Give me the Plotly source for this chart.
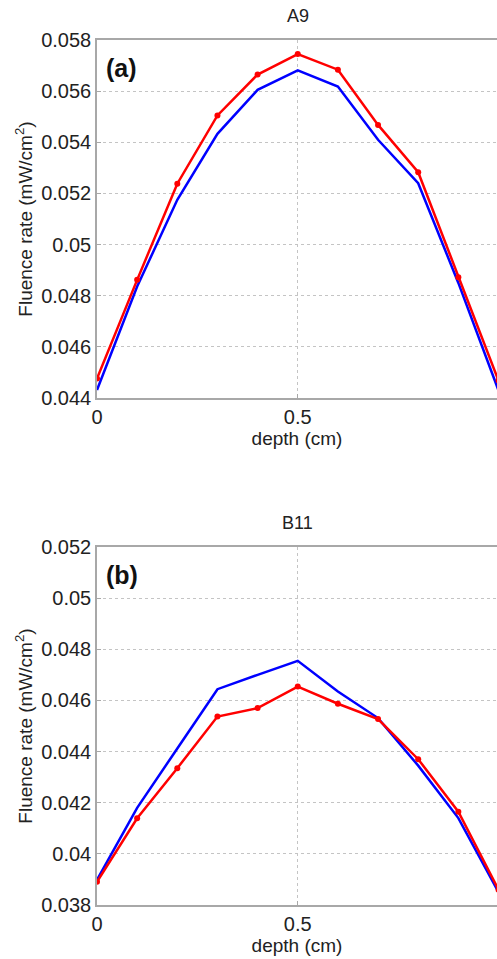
import plotly.graph_objects as go

depth = [0.0, 0.1, 0.2, 0.3, 0.4, 0.5, 0.6, 0.7, 0.8, 0.9, 1.0]

a_red = [0.04476, 0.04862, 0.05238, 0.05505, 0.05665, 0.05745, 0.05684, 0.05468, 0.05283, 0.04872, 0.04468]
a_blue = [0.04431, 0.04836, 0.05175, 0.05433, 0.05605, 0.05681, 0.05618, 0.05410, 0.05240, 0.04850, 0.04430]

b_red = [0.03891, 0.04139, 0.04335, 0.04537, 0.04570, 0.04654, 0.04587, 0.04527, 0.04370, 0.04165, 0.03860]
b_blue = [0.03898, 0.04180, 0.04412, 0.04644, 0.04700, 0.04755, 0.04635, 0.04531, 0.04345, 0.04140, 0.03850]

titles = ["A9", "B11"]
panel_labels = ["(a)", "(b)"]
x_ticks = [0, 0.5, 1]
a_yticks = [0.044, 0.046, 0.048, 0.05, 0.052, 0.054, 0.056, 0.058]
b_yticks = [0.038, 0.04, 0.042, 0.044, 0.046, 0.048, 0.05, 0.052]

W, H = 497, 959
ML, MR, MT, MB = 97, 0, 40, 54
plot_w = W - ML - MR
plot_h = H - MT - MB
unit_px = 401.5
xmax = plot_w / unit_px

def frac(py):
    return (H - MB - py) / plot_h

dom_a = [frac(398), 1.0]
dom_b = [0.0, frac(547)]

fig = go.Figure()
line_w = 2.5
fig.add_trace(go.Scatter(x=depth, y=a_blue, mode="lines", line=dict(color="#0000ff", width=line_w), xaxis="x", yaxis="y", showlegend=False))
fig.add_trace(go.Scatter(x=depth, y=a_red, mode="lines+markers", line=dict(color="#ff0000", width=line_w), marker=dict(size=6, color="#ff0000"), xaxis="x", yaxis="y", showlegend=False))
fig.add_trace(go.Scatter(x=depth, y=b_blue, mode="lines", line=dict(color="#0000ff", width=line_w), xaxis="x2", yaxis="y2", showlegend=False))
fig.add_trace(go.Scatter(x=depth, y=b_red, mode="lines+markers", line=dict(color="#ff0000", width=line_w), marker=dict(size=6, color="#ff0000"), xaxis="x2", yaxis="y2", showlegend=False))

font_family = "Liberation Sans, Arial, sans-serif"
tick_font = dict(family=font_family, size=20, color="#222222")
axis_line = "#a8a8a8"
grid_col = "#c4c4c4"

def xaxis(anchor):
    return dict(domain=[0, 1], anchor=anchor, range=[0, xmax], tickvals=x_ticks,
                ticktext=["0", "0.5", "1"], tickfont=tick_font,
                showline=True, linecolor=axis_line, linewidth=1.5, mirror=True,
                showgrid=True, gridcolor=grid_col, griddash="dot", gridwidth=1,
                ticks="inside", ticklen=4, tickcolor=axis_line, zeroline=False,
                title=dict(text="depth (cm)", font=dict(family=font_family, size=19, color="#222222"), standoff=2))

def yaxis(anchor, dom, rng, tv):
    return dict(domain=dom, anchor=anchor, range=rng, tickvals=tv,
                ticktext=[("%g" % v) for v in tv], tickfont=tick_font,
                showline=True, linecolor=axis_line, linewidth=1.5, mirror=False,
                showgrid=True, gridcolor=grid_col, griddash="dot", gridwidth=1,
                ticks="inside", ticklen=4, tickcolor=axis_line, zeroline=False,
                title=dict(text="Fluence rate (mW/cm<sup>2</sup>)", font=dict(family=font_family, size=19, color="#222222"), standoff=4))

fig.update_layout(
    width=W, height=H,
    margin=dict(l=ML, r=MR, t=MT, b=MB),
    paper_bgcolor="white", plot_bgcolor="white",
    xaxis=xaxis("y"),
    yaxis=yaxis("x", dom_a, [0.044, 0.058], a_yticks),
    xaxis2=xaxis("y2"),
    yaxis2=yaxis("x2", dom_b, [0.038, 0.052], b_yticks),
)

anns = []
for title, lab, dom in zip(titles, panel_labels, [dom_a, dom_b]):
    anns.append(dict(text=title, xref="paper", yref="paper", x=0.5 / xmax, y=dom[1], yshift=12,
                     xanchor="center", yanchor="bottom", showarrow=False,
                     font=dict(family=font_family, size=18, color="#222222")))
    anns.append(dict(text="<b>%s</b>" % lab, xref="paper", yref="paper", x=0.018, y=dom[1], yshift=-12,
                     xanchor="left", yanchor="top", showarrow=False,
                     font=dict(family=font_family, size=25, color="#111111")))
fig.update_layout(annotations=anns)

fig.write_html("out.html", config={"displayModeBar": False},
               post_script="document.body.style.margin='0';document.body.style.overflow='hidden';")
